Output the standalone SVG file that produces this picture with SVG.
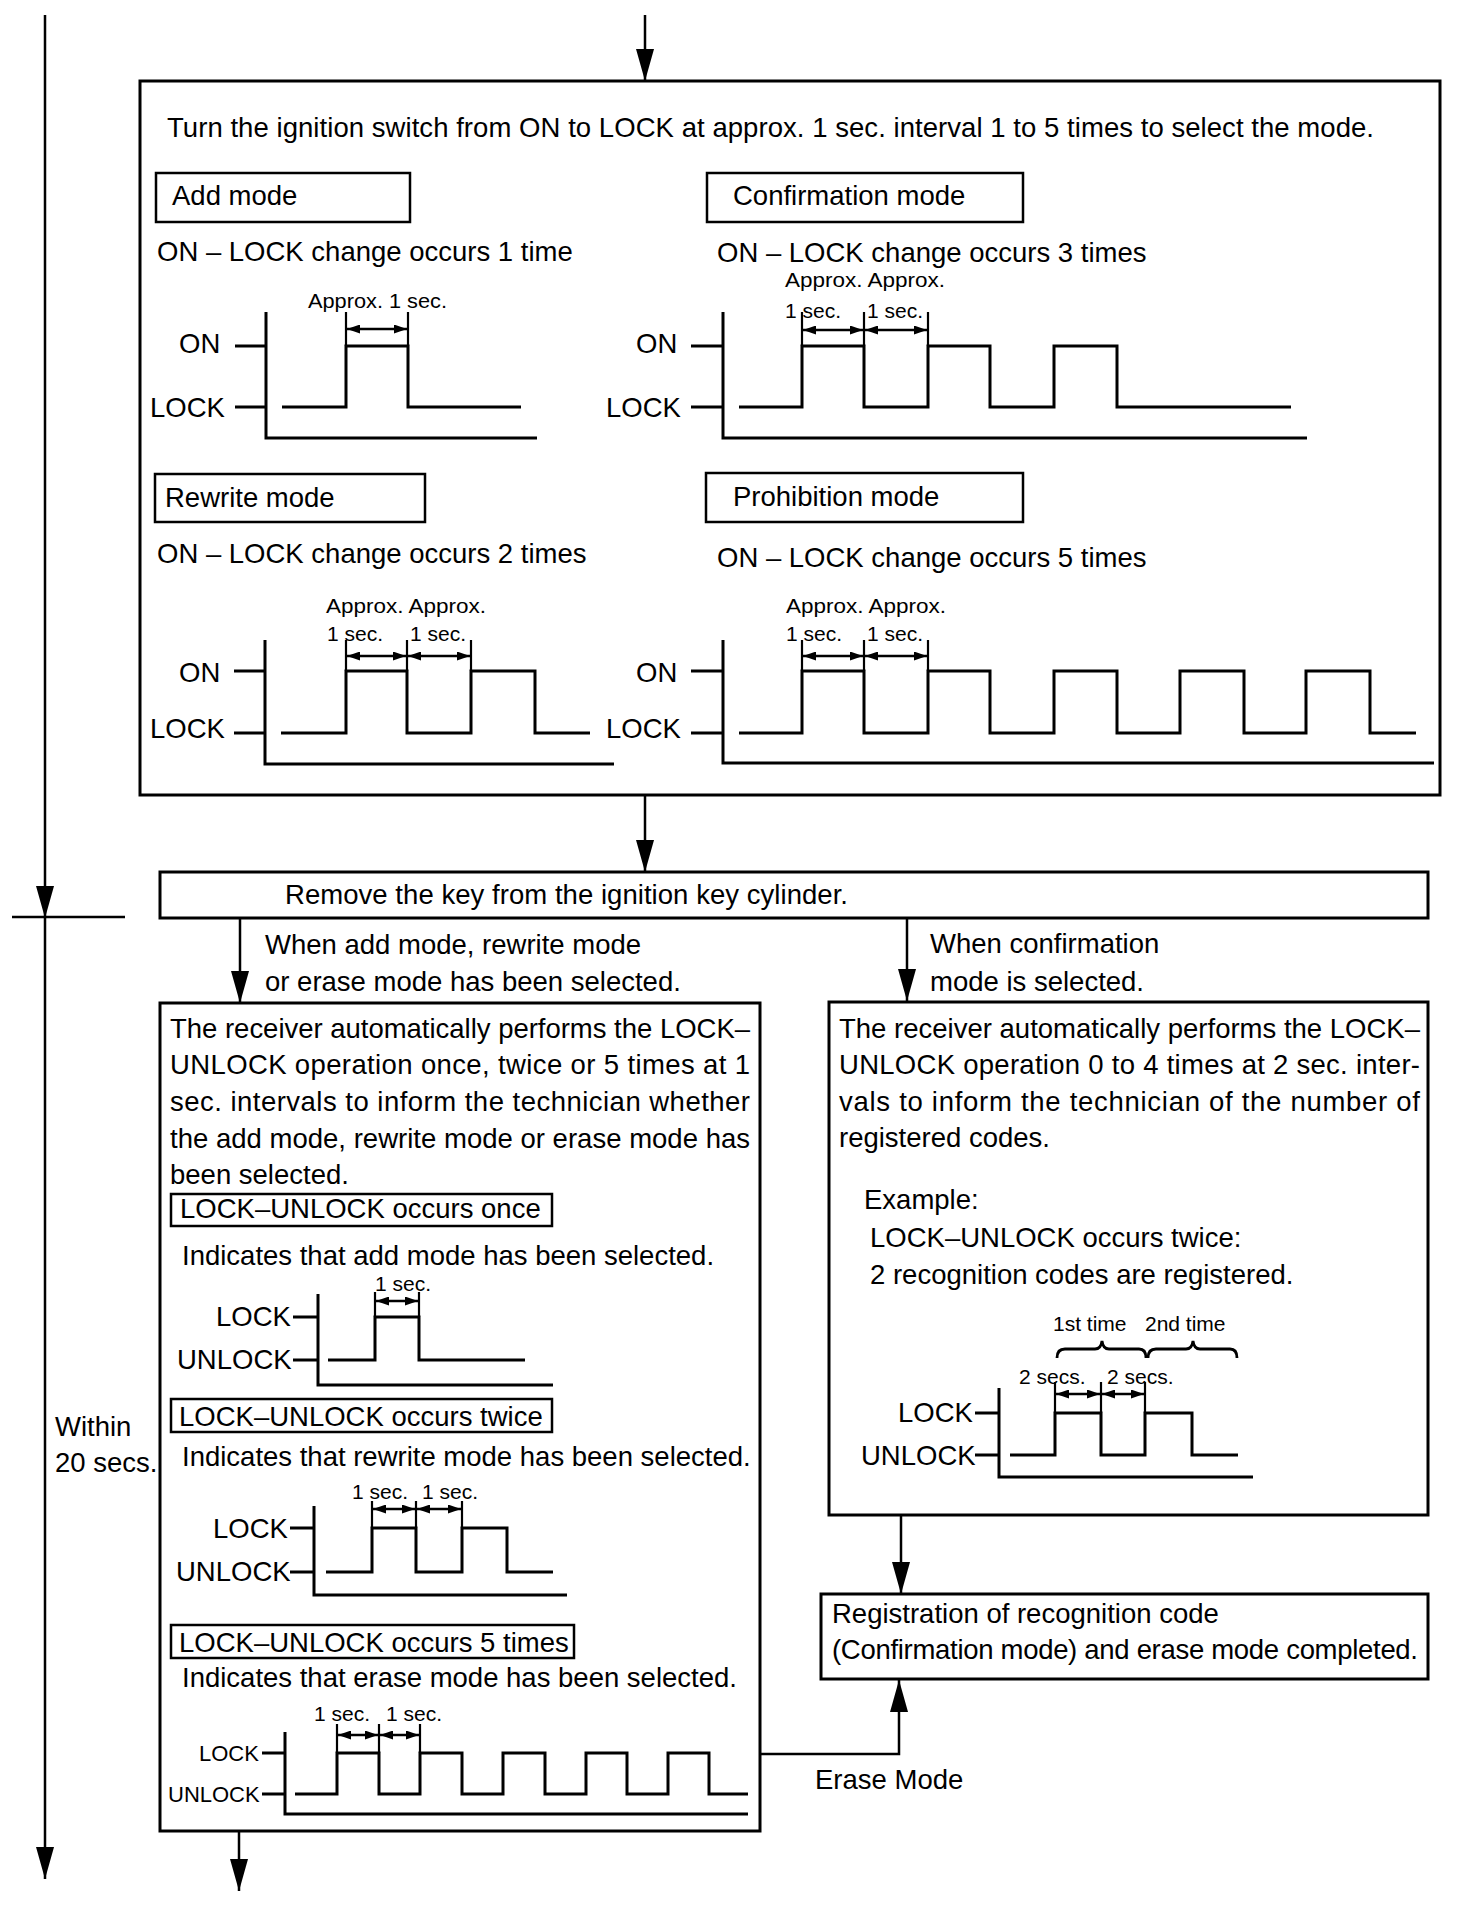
<svg xmlns="http://www.w3.org/2000/svg" width="1472" height="1916" viewBox="0 0 1472 1916">
<style>
text { font-family: "Liberation Sans", Arial, "DejaVu Sans", sans-serif; font-size: 27.5px; fill: #000; }
.s { font-size: 21px; }
.m { font-size: 22px; }
.box { fill: none; stroke: #000; stroke-width: 3; }
.lbl { fill: none; stroke: #000; stroke-width: 2.5; }
.wave { fill: none; stroke: #000; stroke-width: 3; stroke-linejoin: miter; }
.dim { fill: none; stroke: #000; stroke-width: 2.2; }
.brace { fill: none; stroke: #000; stroke-width: 2.8; }
.dimarrow { fill: none; stroke: #000; stroke-width: 2.5; marker-start: url(#da); marker-end: url(#da); }
.conn { fill: none; stroke: #000; stroke-width: 2.5; }
</style>
<defs>
<marker id="ah" viewBox="0 0 32 18" refX="32" refY="9" markerWidth="32" markerHeight="18" markerUnits="userSpaceOnUse" orient="auto">
<path d="M0,0 L32,9 L0,18 Z" fill="#000"/>
</marker>
<marker id="da" viewBox="0 0 13 9" refX="13" refY="4.5" markerWidth="13" markerHeight="9" markerUnits="userSpaceOnUse" orient="auto-start-reverse">
<path d="M0,0 L13,4.5 L0,9 Z" fill="#000"/>
</marker>
</defs>
<rect width="1472" height="1916" fill="#fff"/>

<g id="connectors">
<line class="conn" x1="645" y1="15" x2="645" y2="81" marker-end="url(#ah)"/>
<line class="conn" x1="645" y1="795" x2="645" y2="872" marker-end="url(#ah)"/>
<line class="conn" x1="240" y1="918" x2="240" y2="1003" marker-end="url(#ah)"/>
<line class="conn" x1="907" y1="918" x2="907" y2="1001" marker-end="url(#ah)"/>
<line class="conn" x1="901" y1="1515" x2="901" y2="1594" marker-end="url(#ah)"/>
<polyline class="conn" points="760,1754 899,1754 899,1680" marker-end="url(#ah)"/>
<line class="conn" x1="239" y1="1831" x2="239" y2="1891" marker-end="url(#ah)"/>
<text x="265" y="954">When add mode, rewrite mode</text>
<text x="265" y="991">or erase mode has been selected.</text>
<text x="930" y="953">When confirmation</text>
<text x="930" y="991">mode is selected.</text>
<text x="815" y="1789">Erase Mode</text>
</g>

<g id="timeline">
<line class="conn" x1="45" y1="15" x2="45" y2="918" stroke-width="3" marker-end="url(#ah)"/>
<line class="conn" x1="45" y1="918" x2="45" y2="1879" stroke-width="3" marker-end="url(#ah)"/>
<line class="conn" x1="12" y1="917" x2="125" y2="917"/>
<text x="55" y="1436">Within</text>
<text x="55" y="1472">20 secs.</text>
</g>

<g id="mode-select">
<rect class="box" x="140" y="81" width="1300" height="714"/>
<text x="167" y="137" textLength="1207" lengthAdjust="spacing">Turn the ignition switch from ON to LOCK at approx. 1 sec. interval 1 to 5 times to select the mode.</text>

<g id="add-mode">
<rect class="lbl" x="156" y="173" width="254" height="49"/>
<text x="172" y="205">Add mode</text>
<text x="157" y="261">ON – LOCK change occurs 1 time</text>
<text class="s" x="308" y="308" textLength="139" lengthAdjust="spacingAndGlyphs">Approx. 1 sec.</text>
<text x="179" y="353">ON</text>
<text x="150" y="417">LOCK</text>
<path class="wave" d="M266,312 V438 H537"/>
<path class="wave" d="M235,346 H266 M235,407 H266"/>
<path class="wave" d="M282,407 H346 V346 H408 V407 H521"/>
<path class="dim" d="M346,312 V346 M408,312 V346"/>
<line class="dimarrow" x1="347" y1="329" x2="407" y2="329"/>
</g>

<g id="confirmation-mode">
<rect class="lbl" x="707" y="173" width="316" height="49"/>
<text x="733" y="205">Confirmation mode</text>
<text x="717" y="262">ON – LOCK change occurs 3 times</text>
<text class="s" x="785" y="287" textLength="160" lengthAdjust="spacingAndGlyphs">Approx. Approx.</text>
<text class="s" x="785" y="318">1 sec.</text>
<text class="s" x="867" y="318">1 sec.</text>
<text x="636" y="353">ON</text>
<text x="606" y="417">LOCK</text>
<path class="wave" d="M723,312 V438 H1307"/>
<path class="wave" d="M691,346 H723 M691,407 H723"/>
<path class="wave" d="M739,407 H802 V346 H864 V407 H928 V346 H990 V407 H1054 V346 H1117 V407 H1291"/>
<path class="dim" d="M802,312 V346 M864,312 V346 M928,312 V346"/>
<line class="dimarrow" x1="803" y1="330" x2="863" y2="330"/>
<line class="dimarrow" x1="865" y1="330" x2="927" y2="330"/>
</g>

<g id="rewrite-mode">
<rect class="lbl" x="155" y="474" width="270" height="48"/>
<text x="165" y="507">Rewrite mode</text>
<text x="157" y="563">ON – LOCK change occurs 2 times</text>
<text class="s" x="326" y="613" textLength="160" lengthAdjust="spacingAndGlyphs">Approx. Approx.</text>
<text class="s" x="327" y="641">1 sec.</text>
<text class="s" x="410" y="641">1 sec.</text>
<text x="179" y="682">ON</text>
<text x="150" y="738">LOCK</text>
<path class="wave" d="M265,640 V764 H614"/>
<path class="wave" d="M234,671 H265 M234,733 H265"/>
<path class="wave" d="M281,733 H346 V671 H407 V733 H471 V671 H535 V733 H590"/>
<path class="dim" d="M346,640 V671 M407,640 V671 M471,640 V671"/>
<line class="dimarrow" x1="347" y1="656" x2="406" y2="656"/>
<line class="dimarrow" x1="408" y1="656" x2="470" y2="656"/>
</g>

<g id="prohibition-mode">
<rect class="lbl" x="706" y="473" width="317" height="49"/>
<text x="733" y="506">Prohibition mode</text>
<text x="717" y="567">ON – LOCK change occurs 5 times</text>
<text class="s" x="786" y="613" textLength="160" lengthAdjust="spacingAndGlyphs">Approx. Approx.</text>
<text class="s" x="786" y="641">1 sec.</text>
<text class="s" x="867" y="641">1 sec.</text>
<text x="636" y="682">ON</text>
<text x="606" y="738">LOCK</text>
<path class="wave" d="M723,640 V763 H1434"/>
<path class="wave" d="M691,671 H723 M691,733 H723"/>
<path class="wave" d="M739,733 H802 V671 H864 V733 H928 V671 H990 V733 H1054 V671 H1117 V733 H1180 V671 H1244 V733 H1306 V671 H1370 V733 H1416"/>
<path class="dim" d="M802,640 V671 M864,640 V671 M928,640 V671"/>
<line class="dimarrow" x1="803" y1="656" x2="863" y2="656"/>
<line class="dimarrow" x1="865" y1="656" x2="927" y2="656"/>
</g>
</g>

<g id="remove-key">
<rect class="box" x="160" y="872" width="1268" height="46"/>
<text x="285" y="904" textLength="563" lengthAdjust="spacing">Remove the key from the ignition key cylinder.</text>
</g>

<g id="receiver-add">
<rect class="box" x="160" y="1003" width="600" height="828"/>
<text x="170" y="1038" textLength="580" lengthAdjust="spacing">The receiver automatically performs the LOCK–</text>
<text x="170" y="1074" textLength="580" lengthAdjust="spacing">UNLOCK operation once, twice or 5 times at 1</text>
<text x="170" y="1111" textLength="580" lengthAdjust="spacing">sec. intervals to inform the technician whether</text>
<text x="170" y="1148" textLength="580" lengthAdjust="spacing">the add mode, rewrite mode or erase mode has</text>
<text x="170" y="1184">been selected.</text>

<g id="occurs-once">
<rect class="lbl" x="171" y="1194" width="381" height="32"/>
<text x="180" y="1218">LOCK–UNLOCK occurs once</text>
<text x="182" y="1265">Indicates that add mode has been selected.</text>
<text class="s" x="375" y="1291">1 sec.</text>
<text x="216" y="1326">LOCK</text>
<text x="177" y="1369">UNLOCK</text>
<path class="wave" d="M318,1294 V1385 H553"/>
<path class="wave" d="M293,1317 H318 M293,1360 H318"/>
<path class="wave" d="M328,1360 H375 V1317 H419 V1360 H525"/>
<path class="dim" d="M375,1292 V1317 M419,1292 V1317"/>
<line class="dimarrow" x1="376" y1="1301" x2="418" y2="1301"/>
</g>

<g id="occurs-twice">
<rect class="lbl" x="171" y="1399" width="381" height="33"/>
<text x="179" y="1426">LOCK–UNLOCK occurs twice</text>
<text x="182" y="1466">Indicates that rewrite mode has been selected.</text>
<text class="s" x="352" y="1499">1 sec.</text>
<text class="s" x="422" y="1499">1 sec.</text>
<text x="213" y="1538">LOCK</text>
<text x="176" y="1581">UNLOCK</text>
<path class="wave" d="M314,1506 V1595 H567"/>
<path class="wave" d="M290,1528 H314 M290,1572 H314"/>
<path class="wave" d="M326,1572 H372 V1528 H416 V1572 H462 V1528 H507 V1572 H553"/>
<path class="dim" d="M372,1501 V1528 M416,1501 V1528 M462,1501 V1528"/>
<line class="dimarrow" x1="373" y1="1509" x2="415" y2="1509"/>
<line class="dimarrow" x1="417" y1="1509" x2="461" y2="1509"/>
</g>

<g id="occurs-5-times">
<rect class="lbl" x="171" y="1625" width="403" height="33"/>
<text x="179" y="1652">LOCK–UNLOCK occurs 5 times</text>
<text x="182" y="1687">Indicates that erase mode has been selected.</text>
<text class="s" x="314" y="1721">1 sec.</text>
<text class="s" x="386" y="1721">1 sec.</text>
<text class="m" x="199" y="1761">LOCK</text>
<text class="m" x="168" y="1802">UNLOCK</text>
<path class="wave" d="M285,1732 V1814 H748"/>
<path class="wave" d="M262,1753 H285 M262,1794 H285"/>
<path class="wave" d="M295,1794 H337 V1753 H379 V1794 H420 V1753 H462 V1794 H503 V1753 H545 V1794 H586 V1753 H627 V1794 H668 V1753 H709 V1794 H748"/>
<path class="dim" d="M337,1724 V1753 M379,1724 V1753 M420,1724 V1753"/>
<line class="dimarrow" x1="338" y1="1735" x2="378" y2="1735"/>
<line class="dimarrow" x1="380" y1="1735" x2="419" y2="1735"/>
</g>
</g>

<g id="receiver-confirm">
<rect class="box" x="829" y="1002" width="599" height="513"/>
<text x="839" y="1038" textLength="581" lengthAdjust="spacing">The receiver automatically performs the LOCK–</text>
<text x="839" y="1074" textLength="581" lengthAdjust="spacing">UNLOCK operation 0 to 4 times at 2 sec. inter-</text>
<text x="839" y="1111" textLength="581" lengthAdjust="spacing">vals to inform the technician of the number of</text>
<text x="839" y="1147">registered codes.</text>
<text x="864" y="1209">Example:</text>
<text x="870" y="1247">LOCK–UNLOCK occurs twice:</text>
<text x="870" y="1284">2 recognition codes are registered.</text>
<text class="s" x="1053" y="1331">1st time</text>
<text class="s" x="1145" y="1331">2nd time</text>
<path class="brace" d="M1057,1358 Q1057,1349 1065,1349 L1095,1349 Q1101,1349 1102,1341 Q1103,1349 1109,1349 L1139,1349 Q1146,1349 1146,1358"/>
<path class="brace" d="M1148,1358 Q1148,1349 1156,1349 L1186,1349 Q1192,1349 1193,1341 Q1194,1349 1200,1349 L1230,1349 Q1237,1349 1237,1358"/>
<text class="s" x="1019" y="1384">2 secs.</text>
<text class="s" x="1107" y="1384">2 secs.</text>
<text x="898" y="1422">LOCK</text>
<text x="861" y="1465">UNLOCK</text>
<path class="wave" d="M999,1388 V1477 H1253"/>
<path class="wave" d="M975,1413 H999 M975,1455 H999"/>
<path class="wave" d="M1010,1455 H1055 V1413 H1101 V1455 H1145 V1413 H1192 V1455 H1238"/>
<path class="dim" d="M1055,1382 V1413 M1101,1382 V1413 M1145,1382 V1413"/>
<line class="dimarrow" x1="1056" y1="1394" x2="1100" y2="1394"/>
<line class="dimarrow" x1="1102" y1="1394" x2="1144" y2="1394"/>
</g>

<g id="registration">
<rect class="box" x="821" y="1594" width="607" height="85"/>
<text x="832" y="1623">Registration of recognition code</text>
<text x="832" y="1659" textLength="586" lengthAdjust="spacing">(Confirmation mode) and erase mode completed.</text>
</g>
</svg>
